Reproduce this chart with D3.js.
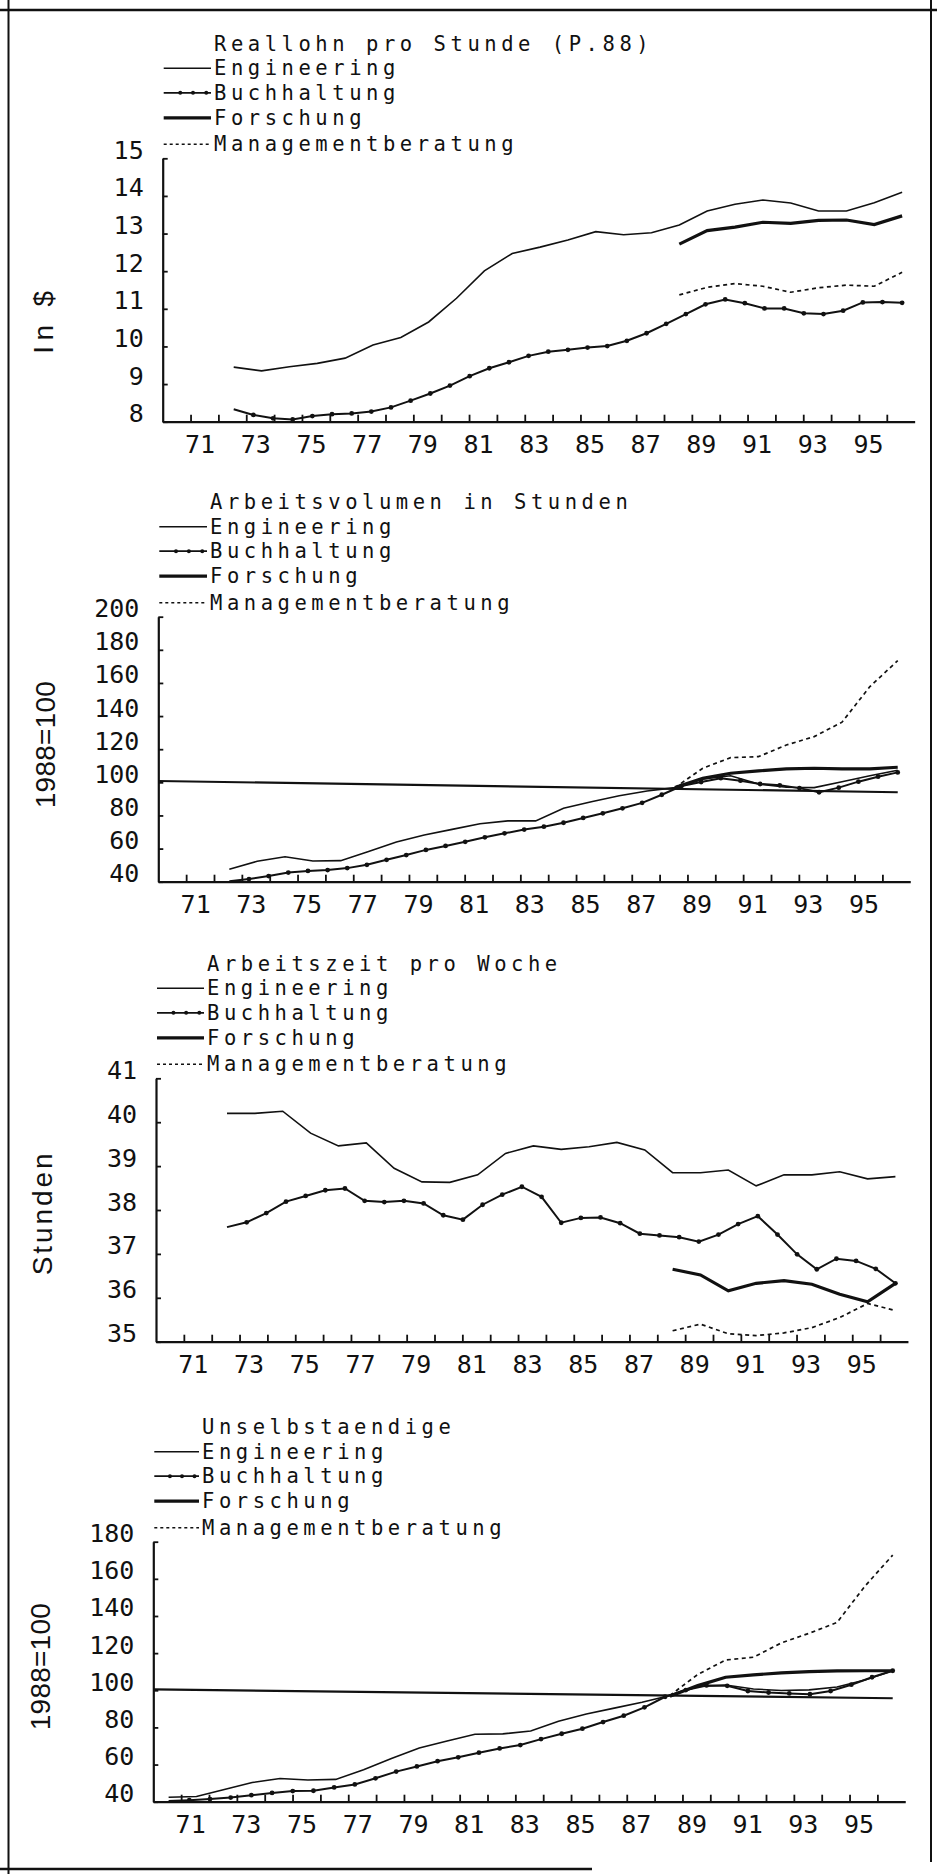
<!DOCTYPE html>
<html>
<head>
<meta charset="utf-8">
<script src="https://cdn.jsdelivr.net/npm/d3@7"></script>
<style>
  body { margin: 0; background: #fff; }
  svg { display: block; }
  .mono { font-family: "DejaVu Sans Mono", monospace; font-size: 25px; fill: #111; }
  .legend { font-family: "DejaVu Sans Mono", monospace; font-size: 20.5px; letter-spacing: 4.55px; fill: #111; }
  .ytitle { font-family: "Liberation Sans", Arial, sans-serif; font-size: 28px; fill: #111; }
</style>
</head>
<body>
<svg id="chart" width="937" height="1874"></svg>
<script>
// ---- data ----
var tickYears = d3.range(1971, 1997);
var seriesNames = ["Engineering", "Buchhaltung", "Forschung", "Managementberatung"];

// Reallohn pro Stunde (P.88), in $
var lohnEng = [9.45, 9.35, 9.46, 9.55, 9.69, 10.04, 10.24, 10.65, 11.28, 12.01, 12.47, 12.64, 12.83,
    13.05, 12.97, 13.02, 13.23, 13.6, 13.78, 13.89, 13.81, 13.6, 13.6, 13.82, 14.1];
var lohnBuch = [8.33, 8.18, 8.09, 8.06, 8.15, 8.2, 8.22, 8.27, 8.38, 8.56, 8.75, 8.96, 9.21, 9.42,
    9.58, 9.75, 9.86, 9.91, 9.97, 10.01, 10.15, 10.35, 10.6, 10.86, 11.12, 11.25, 11.15, 11.01,
    11.01, 10.88, 10.86, 10.95, 11.17, 11.18, 11.16];
var lohnFor = [12.72, 13.08, 13.17, 13.3, 13.27, 13.35, 13.36, 13.24, 13.47];
var lohnMan = [11.37, 11.57, 11.67, 11.6, 11.44, 11.56, 11.63, 11.6, 11.97];

// Arbeitsvolumen in Stunden, 1988=100
var volEng = [47.5, 52.3, 55.1, 52.5, 52.7, 58.3, 64.0, 68.2, 71.6, 75.0, 76.7, 76.7, 84.3, 88.3,
    91.9, 94.8, 96.8, 102.0, 104.0, 99.0, 97.0, 96.8, 100.4, 104.0, 107.3];
var volBuch = [40.3, 41.6, 43.4, 45.5, 46.5, 47.0, 48.2, 50.2, 53.2, 56.1, 59.2, 61.6, 64.1, 66.8,
    69.2, 71.5, 73.2, 75.6, 78.5, 81.3, 84.3, 87.6, 92.5, 97.8, 100.2, 102.5, 101.0, 99.0, 98.2,
    96.5, 94.0, 96.8, 100.4, 103.4, 106.0];
var volFor = [96.8, 102.4, 105.5, 106.9, 108.1, 108.5, 108.1, 108.1, 109.1];
var volMan = [96.8, 108.5, 114.9, 115.5, 122.5, 127.6, 136.3, 157.8, 173.5];
var volRef = [100.8, 94.0];

// Arbeitszeit pro Woche, Stunden
var zeitEng = [40.2, 40.2, 40.25, 39.75, 39.46, 39.53, 38.95, 38.64, 38.63, 38.8, 39.29, 39.46,
    39.38, 39.44, 39.54, 39.37, 38.85, 38.85, 38.91, 38.55, 38.8, 38.8, 38.87, 38.71, 38.76];
var zeitBuch = [37.61, 37.72, 37.93, 38.19, 38.32, 38.45, 38.49, 38.21, 38.18, 38.21, 38.15, 37.88,
    37.78, 38.12, 38.35, 38.53, 38.3, 37.71, 37.82, 37.83, 37.7, 37.46, 37.42, 37.38, 37.28, 37.44,
    37.68, 37.86, 37.44, 36.99, 36.65, 36.89, 36.84, 36.66, 36.33];
var zeitFor = [36.65, 36.52, 36.16, 36.33, 36.39, 36.31, 36.08, 35.91, 36.33];
var zeitMan = [35.25, 35.4, 35.18, 35.14, 35.2, 35.32, 35.55, 35.87, 35.71];

// Unselbstaendige, 1988=100
var beschEng = [42.4, 42.8, 46.6, 50.3, 52.5, 51.7, 52.0, 57.2, 63.3, 68.9, 72.7, 76.3, 76.5, 78.1,
    83.3, 87.2, 90.4, 93.5, 97.2, 102.0, 102.8, 100.7, 99.9, 100.2, 101.8, 105.5, 110.5];
var beschBuch = [40.4, 40.8, 41.4, 42.2, 43.5, 44.7, 45.7, 45.9, 47.7, 49.3, 52.6, 56.2, 59.0, 61.8,
    63.9, 66.4, 68.7, 70.5, 73.7, 76.6, 79.3, 82.9, 86.3, 90.8, 96.5, 100.1, 102.6, 102.4, 99.6,
    98.8, 98.3, 97.9, 99.6, 103.0, 107.0, 110.5];
var beschFor = [96.8, 102.5, 107.0, 108.3, 109.4, 110.0, 110.4, 110.5, 110.5];
var beschMan = [97.2, 108.5, 116.3, 117.8, 125.5, 130.7, 136.5, 156.0, 172.8];
var beschRef = [100.5, 95.7];

// ---- layout ----
var yearW = 27.85, dataShift = 0.55;

var panels = [
    {title: "Reallohn pro Stunde (P.88)", yTitle: "In $", yTitleLen: 63, yTitleX: 43, yTitleDy: 164,
     yMin: 8, yMax: 15, yStep: 1, left: 162.7, top: 158.3, bottom: 421.7, textX: 214,
     eng: lohnEng, engFrom: 1972, buch: lohnBuch, buchFrom: 1972, forsch: lohnFor, man: lohnMan, ref: null},
    {title: "Arbeitsvolumen in Stunden", yTitle: "1988=100", yTitleLen: 127, yTitleX: 45, yTitleDy: 128,
     yMin: 40, yMax: 200, yStep: 20, left: 158.3, top: 616.7, bottom: 881.7, textX: 210,
     eng: volEng, engFrom: 1972, buch: volBuch, buchFrom: 1972, forsch: volFor, man: volMan, ref: volRef},
    {title: "Arbeitszeit pro Woche", yTitle: "Stunden", yTitleLen: 122, yTitleX: 42, yTitleDy: 136,
     yMin: 35, yMax: 41, yStep: 1, left: 156, top: 1078.3, bottom: 1341.7, textX: 207,
     eng: zeitEng, engFrom: 1972, buch: zeitBuch, buchFrom: 1972, forsch: zeitFor, man: zeitMan, ref: null},
    {title: "Unselbstaendige", yTitle: "1988=100", yTitleLen: 127, yTitleX: 40, yTitleDy: 125,
     yMin: 40, yMax: 180, yStep: 20, left: 153.3, top: 1541.7, bottom: 1801.7, textX: 202,
     eng: beschEng, engFrom: 1970, buch: beschBuch, buchFrom: 1970, forsch: beschFor, man: beschMan, ref: beschRef}
];

var svg = d3.select("#chart");
var ink = "#111";

// scan frame
svg.append("line").attr("x1", 0).attr("x2", 937).attr("y1", 10).attr("y2", 10).attr("stroke", ink).attr("stroke-width", 2.5);
svg.append("line").attr("x1", 8.5).attr("x2", 8.5).attr("y1", 0).attr("y2", 1874).attr("stroke", ink).attr("stroke-width", 2);
svg.append("line").attr("x1", 931).attr("x2", 931).attr("y1", 0).attr("y2", 1862).attr("stroke", ink).attr("stroke-width", 2);
svg.append("line").attr("x1", 0).attr("x2", 592).attr("y1", 1869).attr("y2", 1869).attr("stroke", ink).attr("stroke-width", 2.5);

var annual = function (vals, from) {
    return vals.map(function (v, i) { return [from + i, v]; });
};
var spread = function (vals, from, to) {
    var n = vals.length;
    return vals.map(function (v, i) { return [from + i * (to - from) / (n - 1), v]; });
};

panels.forEach(function (p) {
    var x = d3.scaleLinear().domain([1970, 1997]).range([p.left, p.left + 27 * yearW]);
    var y = d3.scaleLinear().domain([p.yMin, p.yMax]).range([p.bottom, p.top]);
    var g = svg.append("g");

    // y axis
    var yAxis = d3.axisLeft(y)
        .tickValues(d3.range(p.yMin, p.yMax + p.yStep / 2, p.yStep))
        .tickSize(-5).tickSizeOuter(0).tickPadding(19)
        .tickFormat(d3.format("d"));
    var ya = g.append("g").attr("transform", "translate(" + p.left + ",0)").call(yAxis)
        .attr("font-family", null).attr("font-size", null);
    ya.selectAll("text").attr("class", "mono").attr("y", -8);

    // x axis
    var xAxis = d3.axisBottom(x)
        .tickValues(tickYears)
        .tickSize(-7).tickSizeOuter(0)
        .tickFormat(function (d) { return d % 2 ? String(d).slice(2) : ""; });
    var xa = g.append("g").attr("transform", "translate(0," + p.bottom + ")").call(xAxis)
        .attr("font-family", null).attr("font-size", null);
    xa.selectAll("text").attr("class", "mono").attr("dy", null).attr("y", 31).attr("x", 9);

    g.selectAll(".domain").attr("stroke", ink).attr("stroke-width", 2.2);
    g.selectAll(".tick line").attr("stroke", ink).attr("stroke-width", 1.8);

    // rotated y title
    g.append("text").attr("class", "ytitle")
        .attr("transform", "translate(" + p.yTitleX + "," + (p.top + p.yTitleDy) + ") rotate(-90)")
        .attr("text-anchor", "middle").attr("dominant-baseline", "central")
        .attr("textLength", p.yTitleLen).attr("lengthAdjust", "spacing")
        .text(p.yTitle);

    var line = d3.line()
        .x(function (d) { return x(d[0] + dataShift); })
        .y(function (d) { return y(d[1]); });

    if (p.ref) {
        g.append("path").datum(spread(p.ref, 1970 - dataShift, 1996))
            .attr("d", line).attr("fill", "none").attr("stroke", ink).attr("stroke-width", 2.2);
    }
    g.append("path").datum(annual(p.eng, p.engFrom))
        .attr("d", line).attr("fill", "none").attr("stroke", ink).attr("stroke-width", 1.6);

    var buchPts = spread(p.buch, p.buchFrom, 1996);
    g.append("path").datum(buchPts)
        .attr("d", line).attr("fill", "none").attr("stroke", ink).attr("stroke-width", 2);
    g.selectAll(".dot").data(buchPts.slice(1)).enter().append("circle")
        .attr("cx", function (d) { return x(d[0] + dataShift); })
        .attr("cy", function (d) { return y(d[1]); })
        .attr("r", 2.4).attr("fill", ink);

    g.append("path").datum(annual(p.forsch, 1988))
        .attr("d", line).attr("fill", "none").attr("stroke", ink).attr("stroke-width", 3.2);
    g.append("path").datum(annual(p.man, 1988))
        .attr("d", line).attr("fill", "none").attr("stroke", ink).attr("stroke-width", 1.7)
        .attr("stroke-dasharray", "4,3.5");

    // title and legend
    g.append("text").attr("class", "legend")
        .attr("x", p.textX).attr("y", p.top - 107.5).text(p.title);
    var rowY = [-83, -58.5, -33.5, -7];
    seriesNames.forEach(function (name, i) {
        var by = p.top + rowY[i];
        var ly = by - 7;
        var sample = g.append("line")
            .attr("x1", p.left + 1).attr("x2", p.textX - 3)
            .attr("y1", ly).attr("y2", ly).attr("stroke", ink)
            .attr("stroke-width", [1.6, 1.8, 3.2, 1.6][i]);
        if (i === 3) sample.attr("stroke-dasharray", "3,3");
        if (i === 1) {
            [0.35, 0.62, 0.9].forEach(function (f) {
                g.append("circle").attr("cx", p.left + 1 + f * (p.textX - 4 - p.left))
                    .attr("cy", ly).attr("r", 2).attr("fill", ink);
            });
        }
        g.append("text").attr("class", "legend")
            .attr("x", p.textX).attr("y", by).text(name);
    });
});
</script>
</body>
</html>
